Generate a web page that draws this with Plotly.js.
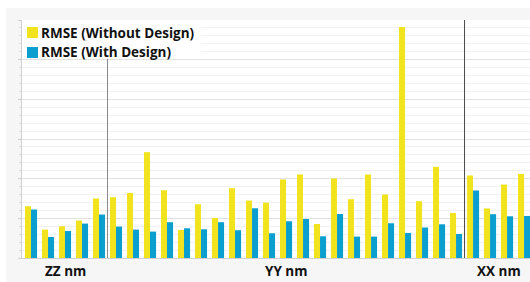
<!DOCTYPE html>
<html>
<head>
<meta charset="utf-8">
<script src="https://cdn.plot.ly/plotly-3.0.1.min.js"></script>
<style>html,body{margin:0;padding:0;background:#fff;}#chart{width:530px;height:282px;}</style>
</head>
<body>
<div id="chart"></div>
<script>
const groups = ["ZZ nm", "YY nm", "XX nm"];
const groupSizes = [5, 21, 4];
const seriesNames = ["RMSE (Without Design)", "RMSE (With Design)"];
const rmseWithout = [6.53, 3.58, 4.0, 4.72, 7.5,
  7.66, 8.2, 13.34, 8.54, 3.53, 6.78, 5.05, 8.8, 7.24, 6.97,
  9.9, 10.53, 4.29, 10.02, 7.41, 10.53, 8.0, 29.12, 7.16, 11.49, 5.68,
  10.4, 6.25, 9.26, 10.6];
const rmseWith = [6.11, 2.65, 3.41, 4.34, 5.48,
  3.96, 3.58, 3.33, 4.51, 3.75, 3.62, 4.51, 3.5, 6.27, 3.12,
  4.63, 4.92, 2.74, 5.55, 2.7, 2.7, 4.38, 3.16, 3.84, 4.25, 3.03,
  8.51, 5.52, 5.26, 5.3];

const categories = [];
groups.forEach((g, gi) => { for (let i = 0; i < groupSizes[gi]; i++) categories.push(g + " " + (i + 1)); });

const yellow = "#F1E31E", blue = "#0B9FCF";
const sepColors = ["#5a5a5a", "#8a8a8a", "#4a4a4a"];
const W = 530, H = 282, mL = 22, mR = 0, mT = 20, mB = 24;
const pw = W - mL - mR, ph = H - mT - mB;
const px = v => (v - mL) / pw;
const py = v => (H - mB - v) / ph;

const traces = [
  {type: "bar", x: categories, y: rmseWithout, name: seriesNames[0], marker: {color: yellow, line: {width: 0}}, showlegend: false},
  {type: "bar", x: categories, y: rmseWith, name: seriesNames[1], marker: {color: blue, line: {width: 0}}, showlegend: false}
];

const shapes = [
  {type: "rect", xref: "paper", yref: "paper", x0: px(0), x1: px(W), y0: py(0), y1: py(8), fillcolor: "#ffffff", line: {width: 0}, layer: "below"},
  {type: "rect", xref: "paper", yref: "paper", x0: px(0), x1: px(6), y0: py(H), y1: py(0), fillcolor: "#ffffff", line: {width: 0}, layer: "below"}
];
const annotations = [];
let start = 0;
groups.forEach((g, gi) => {
  const end = start + groupSizes[gi];
  if (gi > 0) {
    shapes.push({type: "line", xref: "x", yref: "paper", x0: start - 0.5, x1: start - 0.5, y0: 0, y1: 1, line: {color: sepColors[gi], width: 1}, layer: "above"});
  }
  annotations.push({xref: "x", yref: "paper", x: (start + end - 1) / 2, y: py(271), text: g, showarrow: false,
    xanchor: "center", yanchor: "middle", font: {family: "Open Sans", size: 13.5, color: "#111", weight: "bold"}});
  start = end;
});
// legend box
shapes.push({type: "rect", xref: "paper", yref: "paper", x0: px(22), x1: px(201), y0: py(59), y1: py(20), fillcolor: "#ffffff", line: {width: 0}, layer: "above"});
[yellow, blue].forEach((c, i) => {
  shapes.push({type: "rect", xref: "paper", yref: "paper", x0: px(27), x1: px(38), y0: py(38 + 20 * i), y1: py(27 + 20 * i), fillcolor: c, line: {width: 0}, layer: "above"});
  annotations.push({xref: "paper", yref: "paper", x: px(39), y: py(32.5 + 20 * i), text: seriesNames[i], showarrow: false,
    xanchor: "left", yanchor: "middle", font: {family: "Open Sans", size: 13.5, color: "#111", weight: "bold"}});
});

const layout = {
  width: W, height: H,
  margin: {l: mL, r: mR, t: mT, b: mB, pad: 0},
  paper_bgcolor: "#f6f6f6",
  plot_bgcolor: "#ffffff",
  barmode: "group",
  bargap: 0.29,
  bargroupgap: 0,
  showlegend: false,
  xaxis: {type: "category", range: [-0.53, 29.35], showticklabels: false, ticks: "", showgrid: false, zeroline: false,
    showline: true, linecolor: "#cfcfcf", linewidth: 1, fixedrange: true},
  yaxis: {range: [0, 30], dtick: 5, showticklabels: false, ticks: "outside", ticklen: 3, tickcolor: "#d0d0d0",
    showgrid: true, gridcolor: "#e2e2e2", gridwidth: 1, zeroline: false, showline: true, linecolor: "#d0d0d0", linewidth: 1,
    minor: {dtick: 1, showgrid: true, gridcolor: "#f1f1f1", ticks: "outside", ticklen: 2, tickcolor: "#dddddd"}, fixedrange: true},
  shapes: shapes,
  annotations: annotations
};

Plotly.newPlot("chart", traces, layout, {displayModeBar: false, staticPlot: true});
</script>
</body>
</html>
